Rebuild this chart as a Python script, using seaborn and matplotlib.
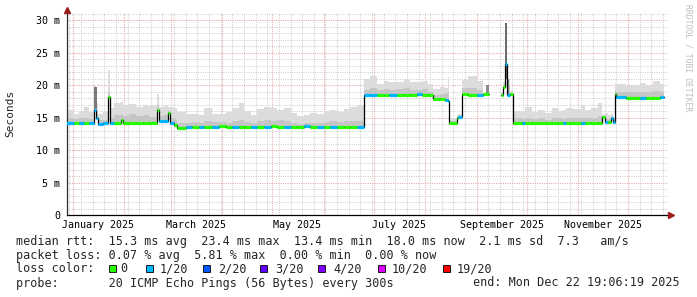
import numpy as np
import pandas as pd
import matplotlib
matplotlib.use("Agg")
import matplotlib.pyplot as plt
import matplotlib.dates as mdates
from matplotlib.patches import Rectangle
import seaborn as sns

# ---------------- data ----------------
seg_start = [
    "2024-12-28", "2025-01-02", "2025-01-05", "2025-01-08", "2025-01-11",
    "2025-01-14", "2025-01-15", "2025-01-16", "2025-01-19", "2025-01-22 12:00",
    "2025-01-23 12:00", "2025-01-26", "2025-01-30", "2025-01-31", "2025-02-04",
    "2025-02-08", "2025-02-12", "2025-02-16", "2025-02-21", "2025-02-22",
    "2025-02-25", "2025-02-27 12:00", "2025-02-28 12:00", "2025-03-03", "2025-03-05",
    "2025-03-10", "2025-03-14", "2025-03-18", "2025-03-21", "2025-03-26",
    "2025-03-30", "2025-04-03", "2025-04-07", "2025-04-11", "2025-04-14",
    "2025-04-18", "2025-04-22", "2025-04-26", "2025-04-30", "2025-05-04",
    "2025-05-08", "2025-05-12", "2025-05-16", "2025-05-20", "2025-05-24",
    "2025-05-28", "2025-06-01", "2025-06-05", "2025-06-09", "2025-06-13",
    "2025-06-17", "2025-06-21", "2025-06-25", "2025-06-29", "2025-07-03",
    "2025-07-07", "2025-07-10", "2025-07-15", "2025-07-19", "2025-07-23",
    "2025-07-27", "2025-07-30", "2025-08-03", "2025-08-06", "2025-08-10",
    "2025-08-13", "2025-08-14 12:00", "2025-08-15 12:00", "2025-08-20", "2025-08-21",
    "2025-08-23", "2025-08-27", "2025-09-01", "2025-09-05", "2025-09-08 12:00",
    "2025-09-15 12:00", "2025-09-17", "2025-09-17 18:00", "2025-09-19", "2025-09-21",
    "2025-09-23", "2025-09-28", "2025-09-30", "2025-10-04", "2025-10-08",
    "2025-10-12", "2025-10-16", "2025-10-20", "2025-10-23", "2025-10-25",
    "2025-10-29", "2025-11-03", "2025-11-05", "2025-11-09", "2025-11-13",
    "2025-11-15 12:00", "2025-11-17", "2025-11-19", "2025-11-21", "2025-11-22",
    "2025-11-23", "2025-11-24", "2025-11-30", "2025-12-04", "2025-12-08",
    "2025-12-12", "2025-12-16", "2025-12-20",
]
end_time = "2025-12-22 19:06"

nan = float("nan")
median_ms = [
    14.1, 14.1, 14.1, 14.1, 14.1,
    16.1, 15.0, 14.0, 14.1, 18.2,
    14.1, 14.1, 14.6, 14.1, 14.1,
    14.1, 14.2, 14.2, 16.1, 14.4,
    14.4, 15.7, 14.2, 13.8, 13.4,
    13.5, 13.5, 13.6, 13.6, 13.6,
    13.7, 13.6, 13.6, 13.6, 13.5,
    13.6, 13.6, 13.6, 13.7, 13.6,
    13.6, 13.6, 13.6, 13.7, 13.6,
    13.6, 13.6, 13.6, 13.6, 13.6,
    13.6, 13.6, 18.4, 18.5, 18.5,
    18.5, 18.5, 18.5, 18.5, 18.5,
    18.6, 18.5, 18.4, 17.8, 17.8,
    17.7, 17.6, 14.2, 15.0, 15.1,
    18.6, 18.5, 18.5, 18.6, nan,
    18.5, 19.7, 23.3, 18.5, 18.6,
    14.2, 14.2, 14.2, 14.2, 14.2,
    14.2, 14.2, 14.2, 14.2, 14.2,
    14.2, 14.2, 14.2, 14.2, 14.2,
    15.1, 14.3, 14.3, 15.0, 14.3,
    18.6, 18.1, 18.0, 18.0, 18.0,
    18.0, 18.0, 18.2,
]
smoke_mid_ms = [
    15.0, 14.8, 14.9, 15.0, 14.8,
    18.0, 16.0, 14.6, 14.7, 19.0,
    14.9, 15.4, 15.6, 15.3, 15.5,
    15.2, 15.4, 15.1, 17.0, 15.3,
    15.4, 16.0, 15.0, 14.8, 14.2,
    14.1, 14.3, 14.2, 14.4, 14.3,
    14.3, 14.2, 14.5, 14.6, 14.3,
    14.1, 14.4, 14.6, 14.5, 14.6,
    14.4, 14.1, 14.0, 14.1, 14.2,
    14.1, 14.3, 14.4, 14.3, 14.4,
    14.5, 14.5, 19.3, 19.6, 19.2,
    19.4, 19.3, 19.4, 19.5, 19.3,
    19.3, 19.4, 19.0, 18.5, 18.6,
    18.8, 19.0, 14.5, 15.1, 15.2,
    19.6, 19.5, 19.3, 19.8, nan,
    18.7, 20.0, 26.0, 19.8, 18.8,
    14.9, 14.8, 15.0, 14.8, 14.9,
    14.7, 15.0, 14.9, 14.8, 15.0,
    14.9, 15.0, 14.9, 15.0, 15.2,
    15.3, 14.8, 14.8, 15.1, 14.5,
    19.3, 19.0, 18.9, 19.0, 18.9,
    19.0, 19.1, 19.0,
]
smoke_hi_ms = [
    16.2, 15.6, 16.0, 16.7, 15.9,
    20.0, 17.2, 15.5, 15.8, 22.3,
    16.4, 17.2, 17.4, 16.9, 17.1,
    16.7, 17.0, 16.8, 18.7, 16.7,
    17.0, 16.6, 16.6, 16.4, 15.9,
    15.5, 15.6, 15.4, 16.5, 15.6,
    15.5, 15.8, 16.4, 17.2, 16.0,
    15.4, 16.3, 16.6, 16.5, 16.2,
    16.4, 15.7, 15.2, 15.4, 15.7,
    15.6, 16.0, 16.2, 15.8, 16.3,
    16.6, 17.0, 21.0, 21.4, 20.2,
    20.6, 20.4, 20.5, 20.9, 20.5,
    20.4, 20.6, 20.2, 19.4, 19.7,
    19.5, 21.2, 15.0, 15.4, 15.5,
    20.8, 21.4, 20.6, 21.3, nan,
    19.0, 20.5, 29.6, 21.0, 19.1,
    16.0, 15.8, 16.7, 15.9, 16.2,
    15.7, 16.4, 16.0, 16.2, 16.5,
    16.3, 16.9, 16.2, 16.5, 17.2,
    15.6, 15.7, 15.4, 15.5, 15.0,
    20.3, 20.1, 19.8, 20.0, 20.3,
    19.9, 20.6, 20.1,
]
loss_of_20 = [
    1, 0, 1, 0, 1,
    1, 1, 1, 1, 0,
    1, 0, 0, 0, 0,
    0, 0, 0, 0, 1,
    1, 0, 1, 0, 0,
    1, 0, 1, 0, 1,
    0, 0, 1, 0, 0,
    1, 0, 1, 0, 0,
    1, 0, 0, 1, 0,
    1, 0, 1, 0, 0,
    0, 1, 1, 1, 0,
    0, 1, 0, 0, 0,
    1, 0, 0, 0, 0,
    1, 1, 0, 0, 1,
    0, 0, 1, 0, 0,
    0, 0, 1, 1, 0,
    0, 1, 0, 0, 0,
    0, 0, 0, 1, 0,
    0, 1, 0, 0, 0,
    0, 1, 0, 1, 1,
    0, 1, 0, 0, 1,
    0, 0, 1,
]

# dense (dark) smoke columns around the spikes
dark_start = ["2025-01-14", "2025-09-06 12:00", "2025-09-17 18:00", "2025-09-19"]
dark_end = ["2025-01-15 12:00", "2025-09-08 12:00", "2025-09-19", "2025-09-20 12:00"]
dark_lo_ms = [16.3, 18.7, 21.0, 18.7]
dark_hi_ms = [19.7, 20.0, 29.6, 21.0]
dark_shade = ["#7a7a7a", "#8a8a8a", "#6a6a6a", "#808080"]

loss_levels = [0, 1, 2, 3, 4, 10, 19]
loss_labels = ["0", "1/20", "2/20", "3/20", "4/20", "10/20", "19/20"]
loss_colors = ["#26ff00", "#00b8ff", "#0059ff", "#5e00ff", "#7e00ff", "#dd00ff", "#ff0000"]

ytick_values = [0, 5, 10, 15, 20, 25, 30]
ytick_labels = ["0", "5 m", "10 m", "15 m", "20 m", "25 m", "30 m"]
xlabel_dates = ["2025-01-16", "2025-03-16", "2025-05-16", "2025-07-16", "2025-09-16", "2025-11-16"]
xlabel_texts = ["January 2025", "March 2025", "May 2025", "July 2025", "September 2025", "November 2025"]

stats_line = "median rtt:  15.3 ms avg  23.4 ms max  13.4 ms min  18.0 ms now  2.1 ms sd  7.3   am/s"
loss_line = "packet loss: 0.07 % avg  5.81 % max  0.00 % min  0.00 % now"
probe_line = "probe:       20 ICMP Echo Pings (56 Bytes) every 300s"
end_line = "end: Mon Dec 22 19:06:19 2025"

assert len(seg_start) == len(median_ms) == len(smoke_mid_ms) == len(smoke_hi_ms) == len(loss_of_20)

# ---------------- figure ----------------
sns.set_style("white")
plt.rcParams["font.family"] = ["DejaVu Sans Mono", "DejaVu Sans"]

W, H = 697, 297
fig = plt.figure(figsize=(W / 100, H / 100), dpi=100)
fig.patch.set_facecolor("white")
ax_l, ax_r, ax_t, ax_b = 67, 668, 13, 215
ax = fig.add_axes([ax_l / W, 1 - ax_b / H, (ax_r - ax_l) / W, (ax_b - ax_t) / H])

t = pd.to_datetime(seg_start, format="mixed")
t_end = pd.to_datetime(end_time)
edges = list(t) + [t_end]
tn = mdates.date2num(edges)
med = np.array(median_ms, float)
mid = np.array(smoke_mid_ms, float)
hi = np.array(smoke_hi_ms, float)

xs = tn
med_s = np.append(med, med[-1])
mid_s = np.append(mid, mid[-1])
hi_s = np.append(hi, hi[-1])

# axes range and grid
jan1 = mdates.date2num(pd.Timestamp("2025-01-01"))
px_per_day = 1.6626
x0 = jan1 - (72.7 - ax_l) / px_per_day
x1 = jan1 + (ax_r - 72.7) / px_per_day
ax.set_xlim(x0, x1)
ax.set_ylim(0, 31.1)

ax.xaxis.set_major_locator(mdates.MonthLocator())
ax.xaxis.set_minor_locator(mdates.WeekdayLocator(byweekday=mdates.MO))
ax.yaxis.set_major_locator(matplotlib.ticker.FixedLocator(ytick_values))
ax.yaxis.set_minor_locator(matplotlib.ticker.MultipleLocator(1))
ax.grid(which="minor", color="#cfcfcf", linestyle=(0, (1, 1.2)), linewidth=0.75, zorder=0)
ax.grid(which="major", color="#e8a4a4", linestyle=(0, (1, 1.2)), linewidth=0.75, zorder=0)
ax.set_axisbelow(True)

# smoke
ax.fill_between(xs, med_s, hi_s, step="post", color="#dcdcdc", linewidth=0, zorder=2)
ax.fill_between(xs, med_s, mid_s, step="post", color="#c6c6c6", linewidth=0, zorder=2.1)
for s0, s1, lo, up, shade in zip(dark_start, dark_end, dark_lo_ms, dark_hi_ms, dark_shade):
    ax.fill_between(mdates.date2num([pd.Timestamp(s0), pd.Timestamp(s1)]), [lo, lo], [up, up],
                    color=shade, linewidth=0, zorder=2.2)

# black median step line (with gap)
rows = []
run = 0
for i in range(len(med)):
    if np.isnan(med[i]):
        run += 1
        continue
    rows.append((tn[i], med[i], run))
    if i + 1 == len(med) or np.isnan(med[i + 1]):
        rows.append((tn[i + 1], med[i], run))
line_df = pd.DataFrame(rows, columns=["time", "rtt", "run"])
sns.lineplot(data=line_df, x="time", y="rtt", units="run", estimator=None,
             color="black", linewidth=0.9, drawstyle="steps-post", ax=ax,
             legend=False, zorder=3)

# coloured median segments by loss
cmap = dict(zip(loss_levels, loss_colors))
ok = ~np.isnan(med)
ax.hlines(med[ok], tn[:-1][ok], tn[1:][ok],
          colors=[cmap[l] for l, k in zip(loss_of_20, ok) if k],
          linewidth=2.3, zorder=4)

# axes styling
for s in ["top", "right"]:
    ax.spines[s].set_visible(False)
ax.spines["left"].set_color("#303030")
ax.spines["bottom"].set_color("black")
ax.spines["left"].set_linewidth(0.9)
ax.spines["bottom"].set_linewidth(0.9)
ax.set_xlabel("")
ax.set_ylabel("")
ax.set_yticks(ytick_values)
ax.set_yticklabels(ytick_labels)
ax.tick_params(axis="y", which="both", length=0, pad=5, labelsize=7.2, labelcolor="black")
ax.tick_params(axis="x", which="both", length=0, labelbottom=False)

for d, txt in zip(xlabel_dates, xlabel_texts):
    ax.text(mdates.date2num(pd.Timestamp(d)), -(225 - ax_b) / (ax_b - ax_t) * 31.1, txt,
            ha="center", va="center", fontsize=7.2, color="black", clip_on=False)

# arrows
ax.plot([0], [1 + 3 / (ax_b - ax_t)], marker="^", color="#9b1c1c", markersize=4.5,
        transform=ax.transAxes, clip_on=False, zorder=6)
ax.plot([1 + 3 / (ax_r - ax_l)], [0], marker=">", color="#9b1c1c", markersize=4.5,
        transform=ax.transAxes, clip_on=False, zorder=6)

# labels around
fig.text(10 / W, 1 - 113 / H, "Seconds", rotation=90, ha="center", va="center", fontsize=8)
fig.text(688 / W, 1 - 4 / H, "RRDTOOL / TOBI OETIKER", rotation=270, ha="center", va="top",
         fontsize=5.8, color="#bdbdbd")

fs = 8.5
fig.text(16 / W, 1 - 241 / H, stats_line, ha="left", va="center", fontsize=fs)
fig.text(16 / W, 1 - 255 / H, loss_line, ha="left", va="center", fontsize=fs)
fig.text(16 / W, 1 - 269 / H, "loss color:", ha="left", va="center", fontsize=fs)
box_px = [109, 146, 203, 260, 318, 378, 443]
lab_px = [120, 160, 218, 275, 333, 392, 457]
for bx, lx, c, lab in zip(box_px, lab_px, loss_colors, loss_labels):
    fig.patches.append(Rectangle((bx / W, 1 - 271.5 / H), 7 / W, 7 / H, transform=fig.transFigure,
                                 facecolor=c, edgecolor="black", linewidth=0.6))
    fig.text(lx / W, 1 - 269 / H, lab, ha="left", va="center", fontsize=fs)
fig.text(16 / W, 1 - 283 / H, probe_line, ha="left", va="center", fontsize=fs)
fig.text(680 / W, 1 - 283 / H, end_line, ha="right", va="center", fontsize=fs)

fig.savefig("out.png", dpi=100, facecolor="white")
